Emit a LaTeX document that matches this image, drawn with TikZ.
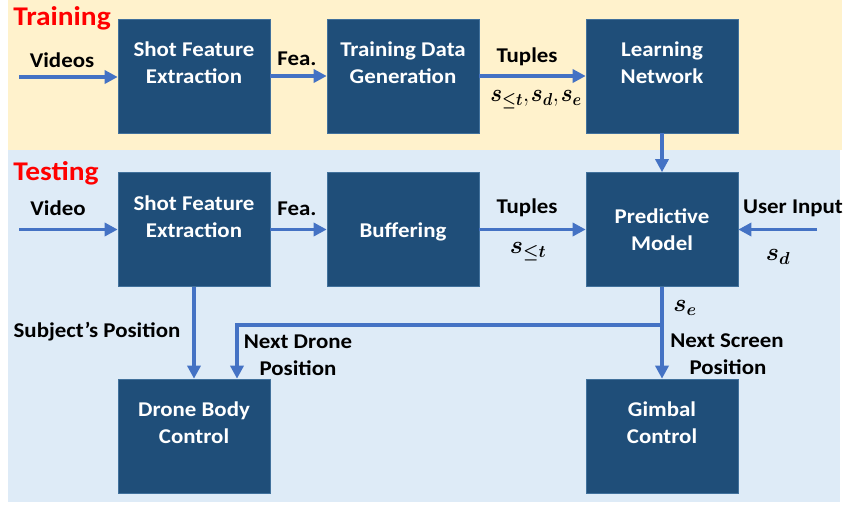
\documentclass[tikz,border=0pt]{standalone}
\usepackage{amsmath,bm,graphicx}
\usepackage{fontspec}
\setmainfont{Carlito}[FakeStretch=1.09]
\usetikzlibrary{arrows.meta}
\definecolor{boxblue}{HTML}{1F4E79}
\definecolor{boxedge}{HTML}{41719C}
\definecolor{arrblue}{HTML}{4472C4}
\definecolor{trainbg}{HTML}{FFF2CC}
\definecolor{testbg}{HTML}{DEEBF7}
\definecolor{titlered}{HTML}{FF0000}
\begin{document}
\begin{tikzpicture}[x=1pt,y=-1pt,
  blk/.style={draw=boxedge, line width=0.6pt, fill=boxblue, inner sep=0pt,
    minimum width=152pt, minimum height=114pt},
  btxt/.style={text=white, font=\fontsize{21}{25}\selectfont\bfseries, anchor=base, inner sep=0pt},
  ltxt/.style={text=black, font=\fontsize{21}{25}\selectfont\bfseries, anchor=base, inner sep=0pt},
  mtxt/.style={text=black, font=\fontsize{23}{27}\selectfont, inner sep=0pt},
  ttl/.style={text=titlered, font=\fontsize{27}{32}\selectfont\bfseries, anchor=base, inner sep=0pt},
  arr/.style={draw=arrblue, line width=3.6pt, -{Triangle[length=13pt,width=13pt]}},
  ln/.style={draw=arrblue, line width=3.6pt}]
\useasboundingbox (0,0) rectangle (845,504);
\fill[white] (0,0) rectangle (845,504);
\fill[trainbg] (8,0) rectangle (842,150);
\fill[testbg] (8,150) rectangle (840,502);

% titles
\node[ttl] (ttrain) at (62,25) {Training};
\node[ttl] (ttest) at (56,180) {Testing};

% boxes
\node[blk] (sfe1) at (194,76) {};
\node[blk] (tdg) at (403,76) {};
\node[blk] (lnet) at (662,76) {};
\node[blk] (sfe2) at (194,229.5) {};
\node[blk] (buf) at (403,229.5) {};
\node[blk] (pm) at (662,229.5) {};
\node[blk] (dbc) at (194,436) {};
\node[blk] (gc) at (662,436) {};

% box texts
\node[btxt] (sfe1a) at (194,56) {Shot Feature};
\node[btxt] (sfe1b) at (194,83) {Extraction};
\node[btxt] (tdga) at (403,56) {Training Data};
\node[btxt] (tdgb) at (403,83) {Generation};
\node[btxt] (lneta) at (662,56) {Learning};
\node[btxt] (lnetb) at (662,83) {Network};
\node[btxt] (sfe2a) at (194,210) {Shot Feature};
\node[btxt] (sfe2b) at (194,237) {Extraction};
\node[btxt] (bufa) at (403,237) {Buffering};
\node[btxt] (pma) at (662,223) {Predictive};
\node[btxt] (pmb) at (662,250) {Model};
\node[btxt] (dbca) at (194,416) {Drone Body};
\node[btxt] (dbcb) at (194,443) {Control};
\node[btxt] (gca) at (662,416) {Gimbal};
\node[btxt] (gcb) at (662,443) {Control};

% connectors
\coordinate (vin) at (19,77);
\draw[arr] (vin) -- (vin -| sfe1.west);
\draw[arr] (sfe1.east) -- (tdg.west);
\draw[arr] (tdg.east) -- (lnet.west);
\draw[arr] (lnet.south) -- (pm.north);
\coordinate (vin2) at (19,229.5);
\draw[arr] (vin2) -- (sfe2.west);
\draw[arr] (sfe2.east) -- (buf.west);
\draw[arr] (buf.east) -- (pm.west);
\coordinate (uin) at (817,229.5);
\draw[arr] (uin) -- (pm.east);
\draw[arr] (sfe2.south) -- (dbc.north);
\draw[arr] (pm.south) -- (gc.north);
\coordinate (br) at (662,325);
\coordinate (dtop) at ([xshift=43pt]dbc.north);
\draw[arr] (br) -| (dtop);

% labels
\node[ltxt] (lvid) at (62,67) {Videos};
\node[ltxt] (lfea1) at (297,65) {Fea.};
\node[ltxt] (ltup1) at (527,62) {Tuples};
\node[mtxt] (ms1) at (536,100) {\scalebox{0.9}[1]{$\bm{s_{\le t}}{,}\mkern1.5mu\bm{s_d}{,}\mkern1.5mu\bm{s_e}$}};
\node[ltxt] (lvid2) at (58,215) {Video};
\node[ltxt] (lfea2) at (297,215) {Fea.};
\node[ltxt] (ltup2) at (527,213) {Tuples};
\node[mtxt] (ms2) at (528,252) {$\bm{s_{\le t}}$};
\node[ltxt] (luser) at (793,213) {User Input};
\node[mtxt] (msd) at (778,257) {$\bm{s_d}$};
\node[mtxt] (mse) at (685,308) {$\bm{s_e}$};
\node[ltxt] (lsub) at (97,337) {Subject’s Position};
\node[ltxt] (lnd1) at (298,348) {Next Drone};
\node[ltxt] (lnd2) at (298,375) {Position};
\node[ltxt] (lns1) at (727,347) {Next Screen};
\node[ltxt] (lns2) at (728,374) {Position};
\end{tikzpicture}
\end{document}
